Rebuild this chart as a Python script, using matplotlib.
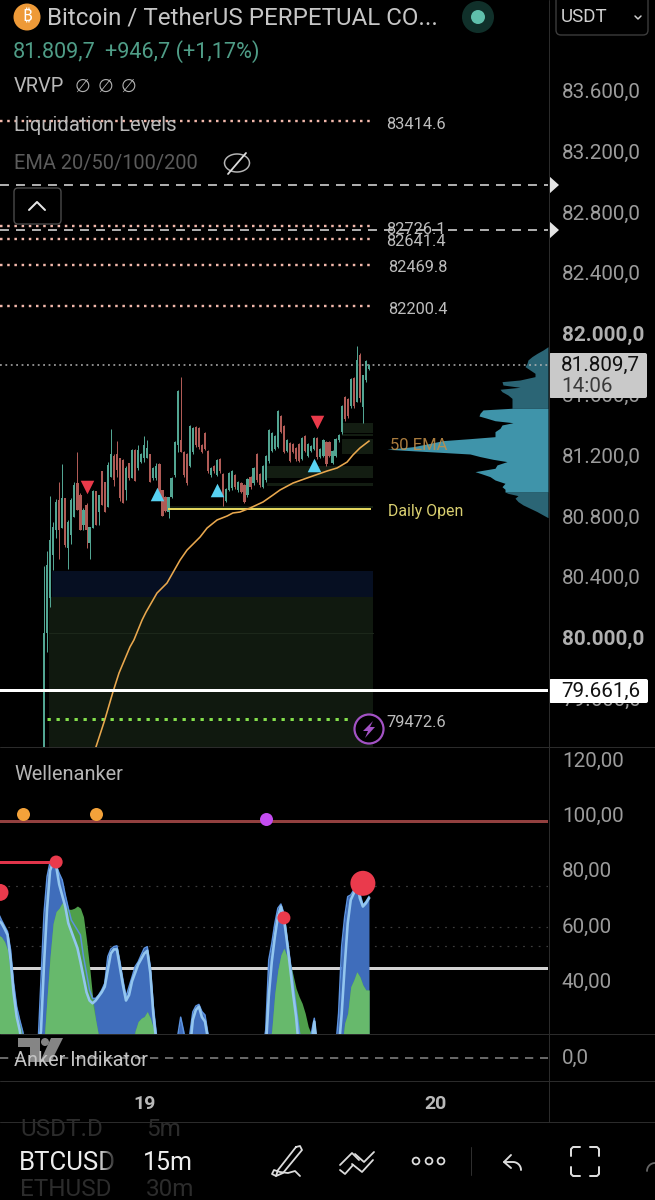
import numpy as np
import matplotlib
matplotlib.use("Agg")
import matplotlib.pyplot as plt
from matplotlib.patches import Circle, FancyBboxPatch, Polygon, Rectangle
from matplotlib.transforms import ScaledTranslation

plt.rcParams['font.family'] = ['Roboto', 'DejaVu Sans']

# ---------- price pane data ----------
candle_high = [80477,80576,80938,80766,80918,81030,81148,80924,80780,80924,81030,81227,80957,80858,80891,80733,
               80977,80970,80944,81102,81030,81161,81378,81214,81299,81187,81181,81135,81155,81247,81247,81273,
               81220,81332,81306,81214,81128,81155,81155,80931,80938,80931,81063,81299,81635,81721,81234,81220,
               81405,81392,81398,81392,81280,81359,81240,81128,81142,81181,81187,81089,80990,81096,81109,81082,
               81036,81030,81017,81056,81069,81128,81220,81089,81142,81207,81378,81359,81339,81503,81471,81405,
               81313,81293,81286,81260,81286,81326,81339,81286,81273,81326,81326,81253,81313,81299,81299,81240,
               81319,81346,81536,81596,81582,81714,81721,81925,81879,81734,81832,81806]
candle_low = [79200,79911,80207,80451,80661,80523,80727,80602,80457,80622,80799,80845,80714,80714,80595,80523,
              80727,80747,80747,80878,80832,80865,81063,81003,81063,80905,80891,80911,81043,81056,81036,81109,
              81155,81161,81187,81030,81043,81043,80931,80806,80832,80793,80924,81063,81227,81227,81063,81010,
              81128,81214,81260,81247,81220,81240,81089,81063,81089,81069,81089,80872,80898,80970,80977,80984,
              80964,80957,80891,80931,80984,81010,81030,80997,80990,81030,81155,81227,81240,81253,81352,81220,
              81227,81161,81220,81168,81161,81174,81227,81194,81227,81240,81181,81187,81194,81135,81194,81148,
              81194,81293,81346,81431,81451,81517,81517,81556,81556,81418,81688,81767]
candle_open = [79200,80036,80266,80550,80714,80911,80727,80924,80595,80681,80799,81023,80944,80747,80878,80628,
               80727,80970,80832,81102,81030,80865,81063,81201,81214,81187,81174,80977,81155,81056,81240,81122,
               81161,81187,81187,81214,81056,81056,81148,80977,80931,80832,80934,81073,81273,81306,81229,81215,
               81138,81224,81393,81387,81275,81354,81235,81073,81137,81079,81182,81084,80908,80980,80987,81077,
               80974,81025,81012,80941,81064,81020,81215,81084,81000,81040,81165,81237,81250,81263,81466,81400,
               81237,81288,81281,81255,81281,81184,81334,81204,81237,81250,81321,81197,81204,81294,81294,81158,
               81204,81303,81356,81591,81577,81527,81716,81556,81866,81523,81698,81772]
candle_close = [80036,80484,80648,80733,80898,80714,80924,80615,80766,80911,81010,80845,80714,80845,80714,80733,
                80970,80747,80944,80878,80832,81142,81214,81043,81109,80924,80891,81122,81056,81240,81036,81240,
                81214,81273,81253,81030,81122,81135,80944,80806,80842,80931,81058,81294,81630,81227,81073,81020,
                81400,81387,81270,81257,81230,81250,81099,81123,81099,81176,81099,80944,80985,81091,81104,80994,
                81031,80967,80901,81051,80994,81123,81040,81007,81137,81202,81373,81354,81334,81498,81362,81230,
                81308,81171,81230,81178,81171,81321,81237,81281,81268,81321,81191,81248,81308,81145,81204,81235,
                81314,81341,81531,81441,81461,81709,81527,81832,81582,81734,81827,81801]

ema_index = [17.1,20,22.7,24.7,28.3,29.6,32.3,33.6,37.2,40.5,44.8,47.1,51.4,53.7,57,60.3,62.2,64.5,67.8,72.1,75.4,77.7,82,87.6,93.2,96.5,99.8,101.7,104,107]
ema_price = [79286,79464,79648,79773,79944,79990,80122,80174,80299,80365,80516,80582,80668,80727,80780,80806,80826,80832,80858,80898,80944,80977,81023,81063,81102,81122,81161,81207,81253,81299]

price_ticks = [83600,83200,82800,82400,82000,81600,81200,80800,80400,80000,79600]
liq_levels = ["83414.6","82726.1","82641.4","82469.8","82200.4"]
liq_line_price = [83402,82713,82630,82458,82188]
liq_label_price = [83385,82694,82609,82438,82168]
dash_levels = [82984,82688]
last_price = 81800
support_price = 79661.6
green_level = 79472.6
daily_open = 80855

sell_marks_x = [14.2,89.9]
sell_marks_y = [80997,81424]
buy_marks_x = [37.2,57,89]
buy_marks_y = [80950,80976,81142]

profile_price = [81920,81898,81876,81855,81833,81811,81789,81767,81745,81723,81701,81690,81668,81653,81640,81624,81602,81580,81548,81515,
                 81504,81482,81464,81449,81433,81420,81405,81383,81361,81328,81315,81302,81284,81262,81245,81230,81214,81197,81179,81164,
                 81142,81120,81098,81083,81065,81043,81021,80999,80982,80964,80955,80940,80923,80901,80879,80857,80835,80813,80795]
profile_vol = [0,5,11,16,20,21,23,18,13,13,28,46,45,28,48,46,40,36,36,36,
               65,68,69,61,53,35,46,48,53,53,78,105,118,135,161,121,78,68,55,41,
               51,53,73,66,58,53,43,46,43,43,40,30,33,30,25,18,11,5,0]

# ---------- oscillator pane data (bar index, values) ----------
osc_start = -15
osc_end = 107
wave_pieces = {
    -15: [64.5,62.1,60,57.9,51.3,39.2,30.8,26,21.8],
    -2: [16,40.4,64.5,77.8,83.2,83.8,82,79,76.6,71.2,66.4,62.1,60.3,58.5,56.7,48.9,42.9,36.8,33.8,33.8,35,36.8,39.2,48.9,51.6,52.5,52.8,47,40.4,34.4,38,41.6,45.3,47,49.5,51.9,52.5,45.3,30.8,20.9],
    44: [20,27,21.8,15,20.9,28.9,31,31.6,29,27.8,20.9],
    73: [22.3,47.7,53.7,60.9,66.4,67.9,64.5,56,47.7,39.2,30.8,22.3,15,15,15,21,26.6,15],
    97: [28.4,52.5,63.3,70.6,71.2,73,77.8,71.8,67.6,68.8,70.6],
}
line_pieces = {
    -15: [62,61,59,56.7,47.7,35.6,27.2,22.3],
    -1: [22,46,66,80,83,81.7,75,71,67,61,58,55,52,47,41.5,36,33,32,33,34.5,36,38,44,50,51.5,51.5,45,38.5,33,35,40,43,46,48,50,51,43,28,18],
    49: [26,29.6,30.8,27,25.4,19],
    74: [34.4,47,56,63.3,67,62.7,54.3,45.3,35.6,27.2],
    89: [25.4],
    98: [28,45.3,60.9,69.4,71.8,76.6,70,67,68.2,70],
}
green_pieces = {
    -15: [56.7,56,54.3,51.3,41.6,34.4,29.6,24.8,21.8],
    0: [18,34,48.9,60.9,65.2,66.4,68.4,67,66,66,66.4,67.2,66.4,63.3,54.9,45.3,34.4,26,20],
    30: [22,25.4,26.6,27.2,29,26.6,23],
    75: [22.3,35.6,44,49.5,51.9,48.9,47,42.3,37.4,34.4,32,28.4,23.6,20.9],
    99: [24.8,28.4,38,40.4,43.4,41.6,38.6,36.8,36.8],
}
overbought = 97.9
midline = 44.8
dotted_osc = [74.4,59.6,52.8]
orange_dots_x = [-7,17]
purple_dot_x = [73]
dots_y = [100.5,100.5,98.6]
red_dots_x = [-14.5,4,79,105]
red_dots_y = [72.1,83.1,62.9,75.4]
red_dot_px = [17,13,13,25]
red_level_x = [-15,4]
red_level_y = [83.1,83.1]
osc_ticks = [120,100,80,60,40]

# ---------- colours ----------
BG = '#000000'
GREEN = '#52a592'
RED = '#b05b56'
TXT = '#b9b9b9'
AX = '#2b2b2b'

W, H = 655, 1200
fig = plt.figure(figsize=(W/100, H/100), dpi=100, facecolor=BG)
X0, X1 = -14.49, 165.95

def pane(top, bottom):
    a = fig.add_axes([0, 1-bottom/H, 548/W, (bottom-top)/H], facecolor=BG)
    a.set_xlim(X0, X1)
    for s in a.spines.values():
        s.set_visible(False)
    a.tick_params(length=0)
    a.set_xticks([])
    return a

def lift(labels, pixels=1.0):
    for lab in labels:
        lab.set_transform(lab.get_transform() + ScaledTranslation(0, pixels/100, fig.dpi_scale_trans))

px = 0.72  # points per pixel
TICK = 14.9

# price pane
ax = pane(0, 747)
ax.set_ylim(84201.3-6.58*747, 84201.3)
ax.yaxis.tick_right()
ax.set_yticks(price_ticks)
ax.set_yticklabels([f"{int(v/1000)}.{v%1000:03d},0" for v in price_ticks], fontsize=TICK, color='#9c9c9c')
for lab, v in zip(ax.get_yticklabels(), price_ticks):
    if v in (82000, 80000):
        lab.set_fontweight('bold')
        lab.set_color('#b0b0b0')
ax.tick_params(axis='y', pad=10, length=0)
lift(ax.get_yticklabels())

# zones (bar index, price)
ax.fill_between([2.6,108.4],[80273,80273],[80444,80444], color='#060f22', lw=0, zorder=1)
ax.fill_between([1.7,108.4],[79000,79000],[80273,80273], color='#10190f', lw=0, zorder=1)
ax.plot([1.7,108.4],[80036,80036], color='#1d281b', lw=0.7, zorder=1.1)
for l,h,lo,hi in [(73.5,108.4,81056,81135),(73.5,108.4,81006,81020),(98,108.4,81352,81418),(98,108.4,81214,81312),
                  (98,108.4,81330,81345),(41,108.4,80860,80872)]:
    ax.fill_between([l,h],[lo,lo],[hi,hi], color='#131d12', lw=0, zorder=1)

# levels
for lab, lv, ly in zip(liq_levels, liq_line_price, liq_label_price):
    ax.plot([X0,107.5],[lv,lv], color='#f2b8ab', lw=2.4*px, ls=(0,(1.05,1.95)), zorder=2)
    ax.text(113.3 if ly<82500 else 112.7, ly, lab, color='#bdbdbd', fontsize=11.8, va='center', ha='left', zorder=6)
for v in dash_levels:
    ax.plot([X0,X1],[v,v], color='#d8d8d8', lw=1.6*px, ls=(0,(5.6,4.4)), zorder=5)
ax.plot([X0,X1],[last_price,last_price], color='#b5b5b5', lw=1.5*px, ls=(0,(1.2,2.4)), zorder=2)
ax.plot([X0,X1],[support_price,support_price], color='#ffffff', lw=3*px, zorder=5)
ax.plot([1,101],[green_level,green_level], color='#84e04c', lw=3*px, ls=(0,(1.1,1.9)), zorder=3)
ax.text(112.7, 79444, f"{green_level}", color='#bdbdbd', fontsize=11.8, va='center', zorder=6)
ax.plot([41,107.5],[daily_open,daily_open], color='#e3d65f', lw=2*px, zorder=4)

# candles
bar_idx = np.arange(len(candle_close))
cols = [GREEN if c >= o else RED for o, c in zip(candle_open, candle_close)]
ax.vlines(bar_idx, candle_low, candle_high, colors=cols, lw=1*px, zorder=3)
ax.bar(bar_idx, np.array(candle_close)-np.array(candle_open), bottom=candle_open, width=0.72, color=cols, lw=0, zorder=3)

# EMA
ax.plot(ema_index, ema_price, color='#e9a84e', lw=1.6*px, zorder=4)

# signals
ax.scatter(sell_marks_x, sell_marks_y, marker='v', s=95, color='#ea3a4a', lw=0, zorder=6)
ax.scatter(buy_marks_x, buy_marks_y, marker='^', s=95, color='#58d2f2', lw=0, zorder=6)

# volume profile on its own x-scale, growing leftwards from the pane edge
axv = ax.twiny()
axv.set_xlim(548, 0)
axv.set_xticks([])
for s in axv.spines.values():
    s.set_visible(False)
pp = np.array(profile_price); pv = np.array(profile_vol)
in_va = (pp <= 81515) & (pp >= 80964)
hi_m = pp >= 81515
lo_m = pp <= 80964
axv.fill_betweenx(pp[hi_m], 0, pv[hi_m], color='#2b6575', lw=0, zorder=2)
axv.fill_betweenx(pp[lo_m], 0, pv[lo_m], color='#2b6575', lw=0, zorder=2)
axv.fill_betweenx(pp[in_va], 0, pv[in_va], color='#3f94aa', lw=0, zorder=2)
ax.set_zorder(axv.get_zorder()+1)
ax.patch.set_visible(False)
axv.patch.set_facecolor(BG)
ax.text(113.8, 81272, "50 EMA", color='#c69048', fontsize=12, va='center', zorder=7, alpha=.85)
ax.text(113.3, 80835, "Daily Open", color='#d9cf70', fontsize=11.4, va='center', zorder=7)

# oscillator pane
ao = pane(747, 1034)
ao.set_ylim(20.9, 124.7)
ao.yaxis.tick_right()
ao.set_yticks(osc_ticks)
ao.set_yticklabels([f"{v},00" for v in osc_ticks], fontsize=TICK, color='#9c9c9c')
ao.tick_params(axis='y', pad=10, length=0)
lift(ao.get_yticklabels())

idx = np.arange(osc_start, osc_end+1)
def series(pieces):
    s = np.full(idx.size, 15.0)
    for st, vals in pieces.items():
        s[st-osc_start:st-osc_start+len(vals)] = vals
    return s
wave, wline, wgreen = series(wave_pieces), series(line_pieces), series(green_pieces)

for v in dotted_osc:
    ao.plot([X0,X1],[v,v], color='#3d3d3d', lw=1.2*px, ls=(0,(1.5,5)), zorder=1)
ao.plot([X0,X1],[midline,midline], color='#d2d2d2', lw=3*px, zorder=2)
ao.plot([X0,X1],[overbought,overbought], color='#92403f', lw=3*px, zorder=2)
ao.fill_between(idx, 0, wave, color='#3f6dbb', lw=0, zorder=3)
ao.fill_between(idx, 0, wgreen, color='#4f9f4b', lw=0, zorder=4)
ao.fill_between(idx, 0, np.minimum(wgreen, wline), color='#67b96c', lw=0, zorder=5)
ao.plot(idx, wave, color='#5c93e0', lw=1.5*px, zorder=6)
ao.plot(idx, wline, color='#93c6ef', lw=2.6*px, zorder=7)
ao.plot(red_level_x, red_level_y, color='#e0344a', lw=3*px, zorder=8)
ao.scatter(orange_dots_x, dots_y[:2], s=(13*px)**2, color='#f3a23a', lw=0, zorder=9)
ao.scatter(purple_dot_x, dots_y[2:], s=(13*px)**2, color='#c44cf0', lw=0, zorder=9)
ao.scatter(red_dots_x, red_dots_y, s=[(d*px)**2 for d in red_dot_px], color='#ea3a4c', lw=0, zorder=9, clip_on=True)

# third pane and time axis
a3 = pane(1034, 1081)
a3.set_ylim(-23, 24)
a3.yaxis.tick_right()
a3.set_yticks([0])
a3.set_yticklabels(["0,0"], fontsize=TICK, color='#9c9c9c')
a3.tick_params(axis='y', pad=10, length=0)
lift(a3.get_yticklabels(), 2.0)
a3.plot([X0,X1],[0,0], color='#8a8a8a', lw=1.5*px, ls=(0,(5.5,4.5)))
a3.set_xticks([33,129])
a3.set_xticklabels(["19","20"], fontsize=14, fontweight='bold', color='#b9b9b9')
a3.tick_params(axis='x', pad=10, length=0)

# ---------- interface overlay in pixel coordinates ----------
ui = fig.add_axes([0,0,1,1], facecolor='none')
ui.set_zorder(10)
ui.set_xlim(0, W); ui.set_ylim(H, 0); ui.axis('off')

def T(x, y, s, size, color=TXT, **k):
    k.setdefault('va','center'); k.setdefault('ha','left')
    return ui.text(x, y, s, fontsize=size, color=color, **k)

def L(xs, ys, color='#dcdcdc', lw=2, **k):
    ui.plot(xs, ys, color=color, lw=lw*px, solid_capstyle='round', solid_joinstyle='round', **k)

# separators
for y in (747, 1034, 1081, 1122):
    L([0,W],[y,y], color=AX, lw=1)
L([548.5,548.5],[0,1122], color=AX, lw=1)

# arrows on dashed levels
for y in (185, 230):
    ui.add_patch(Polygon([(549,y-9),(559,y),(549,y+9)], closed=True, fc='#e4e4e4', ec='none'))

# header
ui.add_patch(Circle((27,17), 13.5, fc='#ee9a38', ec='none'))
ui.text(27, 17.5, "₿", fontsize=12, color='#ffffff', ha='center', va='center', fontweight='bold',
        family=['Noto Sans','Inter','Open Sans','Lato','Roboto','Liberation Sans','DejaVu Sans'])
T(47, 18, "Bitcoin / TetherUS PERPETUAL CO...", 17.4, '#c6c6c6')
ui.add_patch(Circle((478,17), 16, fc='#10302a', ec='none'))
ui.add_patch(Circle((478,17), 7, fc='#5fbfab', ec='none'))
ui.add_patch(FancyBboxPatch((556,-6),92,41, boxstyle='round,pad=0,rounding_size=5', fc=BG, ec='#3c3c3c', lw=1))
T(561, 17, "USDT", 13.5, '#d0d0d0')
L([635,638,641],[16,19,16], color='#cfcfcf', lw=1.5)
T(13, 52, "81.809,7", 15.6, '#4f9d87')
T(105, 52, "+946,7 (+1,17%)", 15.6, '#4f9d87')
T(14, 86, "VRVP", 14.4, '#b9b9b9')
for x in (82, 105, 128):
    ui.text(x, 87, "∅", fontsize=13, color='#b0b0b0', ha='center', va='center', family='DejaVu Sans')
T(14, 125.5, "Liquidation Levels", 14.6, '#b9b9b9')
T(14, 163, "EMA 20/50/100/200", 14.4, '#5b5b5b')
th = np.linspace(0, np.pi, 30)
L(237+12.5*np.cos(th), 163-9*np.sin(th), color='#b5b5b5', lw=1.5)
L(237+12.5*np.cos(th), 163+9*np.sin(th), color='#b5b5b5', lw=1.5)
L([228,246],[174,153], color='#dcdcdc', lw=1.8)
ui.add_patch(FancyBboxPatch((14,188),47,36, boxstyle='round,pad=0,rounding_size=4', fc=BG, ec='#4a4a4a', lw=1))
L([29,37,45],[210,202,210], color='#e6e6e6', lw=2)

# price labels
ui.add_patch(FancyBboxPatch((549,353),98,45, boxstyle='round,pad=0,rounding_size=2', fc='#c9c9c9', ec='none'))
T(561, 365, "81.809,7", TICK, '#111111')
T(561, 386, "14:06", TICK, '#3a3a3a')
ui.add_patch(FancyBboxPatch((549,679),99,24, boxstyle='round,pad=0,rounding_size=2', fc='#ffffff', ec='none'))
T(561, 691, "79.661,6", TICK, '#111111')

# lightning badge
ui.add_patch(Circle((369,729), 14.5, fc=BG, ec='#a252c4', lw=2.2*px))
ui.add_patch(Polygon([(373,721),(363,731),(368,731),(365,738),(375,727),(370,727)], closed=True, fc='#a252c4', ec='none'))

# pane titles
T(14, 774, "Wellenanker", 14.4, '#b5b5b5')
# TradingView mark
ui.add_patch(Polygon([(18,1038),(40,1038),(40,1062),(30,1062),(30,1047),(18,1047)], closed=True, fc='#858585', ec='none'))
ui.add_patch(Circle((45,1042), 4, fc='#858585', ec='none'))
ui.add_patch(Polygon([(51,1038),(63,1038),(51,1062),(40,1062)], closed=True, fc='#858585', ec='none'))
T(14, 1061, "Anker Indikator", 14.3, '#c4c4c4')

# bottom toolbar
T(20, 1130, "USDT.D", 17.5, '#2c2c2c')
T(146, 1130, "5m", 17.5, '#2c2c2c')
T(19, 1163, "BTCUSD", 18.5, '#ededed')
T(143, 1163, "15m", 18, '#ededed')
T(20, 1190, "ETHUSD", 17.5, '#2c2c2c')
T(146, 1190, "30m", 17.5, '#2c2c2c')
grad = np.zeros((1,40,4)); grad[0,:,3] = np.linspace(0,1,40)
ui.imshow(grad, extent=(98,118,1180,1146), aspect='auto', zorder=5)
ui.add_patch(Rectangle((118,1146),6,34, fc=BG, ec='none', zorder=5))
ui.set_xlim(0, W); ui.set_ylim(H, 0)

# pen
L([296,300,302,283,276,278,296],[1147,1146,1150,1173,1176,1170,1147], lw=1.8)
L([276,272,274,280,288,295,300],[1176,1174,1170,1172,1173,1171,1176], lw=1.8)
# double chevrons
L([340,352,359],[1165,1153,1160], lw=1.8); L([340,345,353],[1170,1174,1165], lw=1.8)
L([352,362,373],[1164,1172,1160], lw=1.8); L([355,364,374],[1154,1162,1152], lw=1.8)
# dots
for x in (416, 429, 441):
    ui.add_patch(Circle((x,1161), 3.4, fc='none', ec='#dcdcdc', lw=1.8*px))
L([471,471],[1147,1175], color='#2e2e2e', lw=1)
# undo
L([511,504,511],[1155,1162,1168], lw=1.9)
tt = np.linspace(-np.pi/2, 0, 12)
L(np.r_[504,513+8*np.cos(tt)], np.r_[1162,1170+8*np.sin(tt)], lw=1.9)
# fullscreen
for sx, sy in ((571,1147),(599,1147),(571,1176),(599,1176)):
    dx = 1 if sx == 571 else -1
    dy = 1 if sy == 1147 else -1
    L([sx,sx,sx+dx*2,sx+dx*9],[sy+dy*9,sy+dy*2,sy,sy], lw=2)
# partial icon at the edge
tt = np.linspace(np.pi, 1.5*np.pi, 12)
L(655+8*np.cos(tt), 1171+8*np.sin(tt), color='#666666', lw=1.8)

fig.savefig('out.png', dpi=100, facecolor=BG)
